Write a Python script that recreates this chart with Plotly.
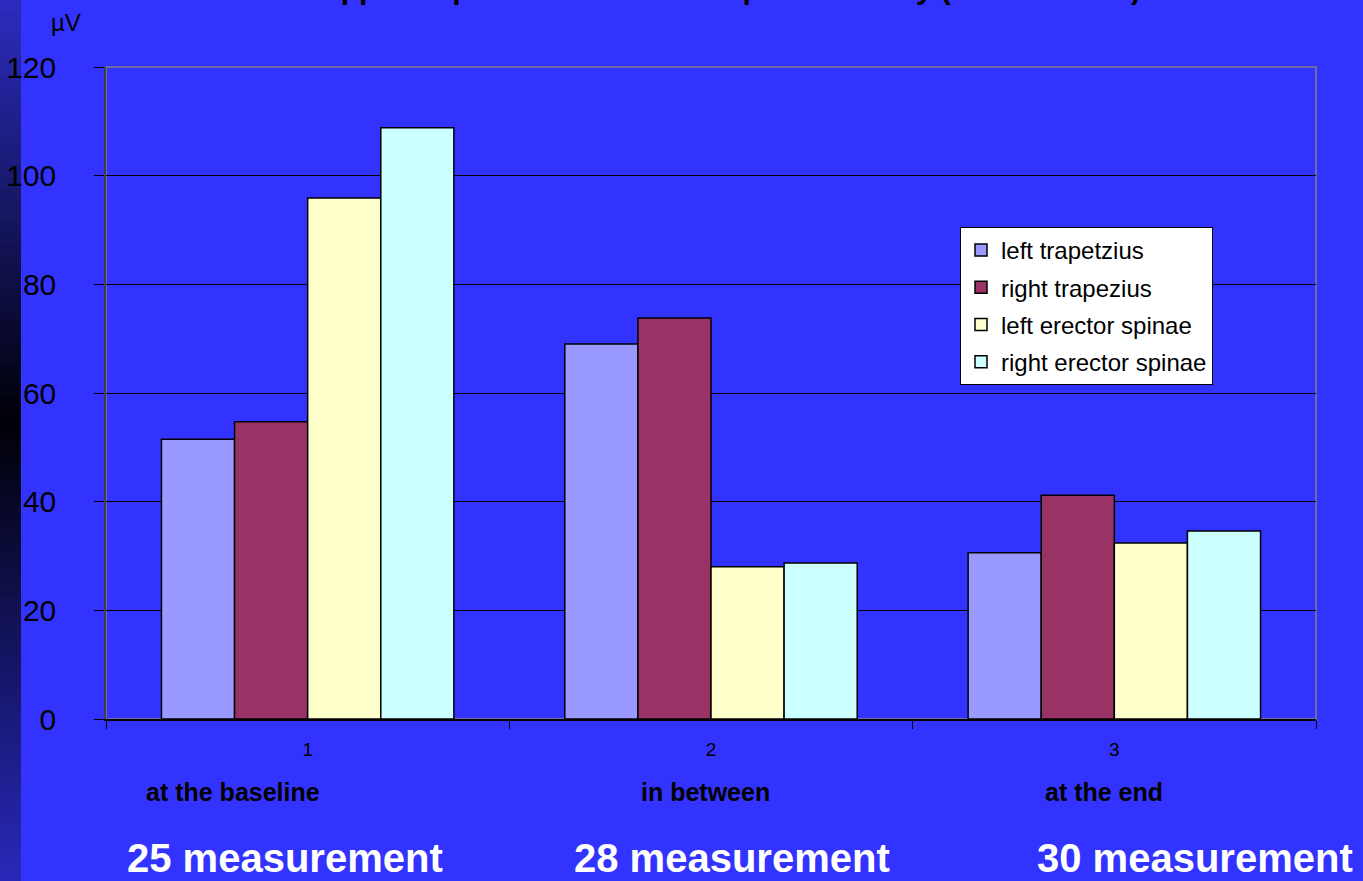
import plotly.graph_objects as go

# Measurement sessions and mean EMG amplitude (µV) per muscle
sessions = ["1", "2", "3"]
session_names = ["at the baseline", "in between", "at the end"]
session_counts = ["25 measurement", "28 measurement", "30 measurement"]

left_trapetzius = [51.5, 69.0, 30.6]
right_trapezius = [54.7, 73.8, 41.2]
left_erector_spinae = [95.9, 28.0, 32.4]
right_erector_spinae = [108.8, 28.7, 34.6]

series_names = ["left trapetzius", "right trapezius", "left erector spinae", "right erector spinae"]
series_values = [left_trapetzius, right_trapezius, left_erector_spinae, right_erector_spinae]
series_colors = ["#9999FF", "#993366", "#FFFFCC", "#CCFFFF"]

y_ticks = [0, 20, 40, 60, 80, 100, 120]

W, H = 1363, 881
M_L, M_R, M_T, M_B = 106, 47, 67, 162
PW, PH = W - M_L - M_R, H - M_T - M_B
BG = "#3333FF"


def px_x(x):
    return (x - M_L) / PW


def px_y(y):
    return (H - M_B - y) / PH


fig = go.Figure()
for name, vals, col in zip(series_names, series_values, series_colors):
    fig.add_trace(go.Bar(
        x=sessions, y=vals, name=name, legendgroup=name,
        marker=dict(color=col, line=dict(color="black", width=1.5)),
    ))

shapes = []
# dark gradient strip on the left edge of the slide
n_seg = 80
top_c, mid_c, bot_c = (44, 44, 192), (0, 0, 6), (40, 40, 186)
mid_px = 420
for i in range(n_seg):
    y0 = H * i / n_seg
    y1 = H * (i + 1) / n_seg
    yc = (y0 + y1) / 2
    if yc < mid_px:
        t = yc / mid_px
        c = [round(a + (b - a) * t) for a, b in zip(top_c, mid_c)]
    else:
        t = (yc - mid_px) / (H - mid_px)
        c = [round(a + (b - a) * t) for a, b in zip(mid_c, bot_c)]
    shapes.append(dict(
        type="rect", xref="paper", yref="paper", layer="below",
        x0=px_x(0), x1=px_x(21), y0=px_y(y1 + 0.5), y1=px_y(y0),
        fillcolor="rgb(%d,%d,%d)" % tuple(c), line=dict(width=0),
    ))
# plot frame on top/right
shapes.append(dict(type="rect", xref="paper", yref="paper", x0=0, x1=1, y0=0, y1=1,
                   line=dict(color="#808080", width=1.5), layer="below"))

annotations = [
    dict(text="µV", xref="paper", yref="paper", x=px_x(66), y=px_y(22),
         xanchor="center", yanchor="middle",
         showarrow=False, font=dict(family="Arial", size=24, color="black")),
    dict(text="<b>Upper trapezius and erector spinae activity (mean values)</b>",
         xref="paper", yref="paper", x=px_x(730), y=px_y(7),
         xanchor="center", yanchor="bottom",
         showarrow=False, font=dict(family="Arial", size=30, color="black")),
]
name_x = [233, 705, 1104]
count_x = [285, 732, 1195]
for nm, nx in zip(session_names, name_x):
    annotations.append(dict(text="<b>" + nm + "</b>", xref="paper", yref="paper",
                            x=px_x(nx), y=px_y(792), xanchor="center", yanchor="middle",
                            showarrow=False,
                            font=dict(family="Arial", size=25, color="black")))
for ct, cx in zip(session_counts, count_x):
    annotations.append(dict(text="<b>" + ct + "</b>", xref="paper", yref="paper",
                            x=px_x(cx), y=px_y(881), xanchor="center", yanchor="bottom",
                            borderpad=0,
                            showarrow=False,
                            font=dict(family="Arial", size=40, color="white")))

fig.update_layout(
    width=W, height=H, autosize=False,
    margin=dict(l=M_L, r=M_R, t=M_T, b=M_B, pad=0, autoexpand=False),
    paper_bgcolor=BG, plot_bgcolor=BG,
    barmode="group", bargap=0.275, bargroupgap=0,
    showlegend=True,
    legend=dict(x=px_x(960), y=px_y(227), xanchor="left", yanchor="top",
                bgcolor="white", bordercolor="black", borderwidth=1,
                font=dict(family="Arial", size=24, color="black"),
                tracegroupgap=3, itemwidth=30),
    shapes=shapes, annotations=annotations,
    xaxis=dict(type="category", tickson="boundaries", ticks="outside", ticklen=8,
               tickcolor="black", showline=True, linecolor="black", linewidth=1.5,
               showgrid=False, tickfont=dict(family="Arial", size=19, color="black"),
               ticklabelstandoff=12, automargin=False),
    yaxis=dict(range=[0, 120], tickvals=y_ticks, ticks="outside", ticklen=10,
               tickcolor="black", showline=True, linecolor="#404040", linewidth=1.5,
               showgrid=True, gridcolor="black", gridwidth=1, zeroline=False,
               tickfont=dict(family="Arial", size=30, color="black"),
               ticklabelstandoff=32, automargin=False),
)

fig.write_html("out.html")
